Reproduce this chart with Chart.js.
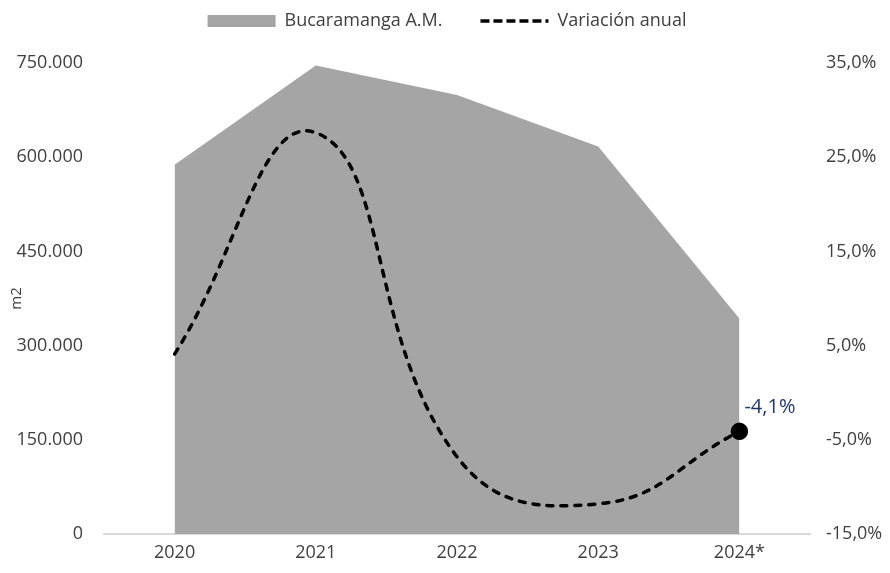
<!DOCTYPE html>
<html>
<head>
<meta charset="utf-8">
<script src="https://cdn.jsdelivr.net/npm/chart.js@4.4.1/dist/chart.umd.min.js"></script>
<style>
  html, body { margin: 0; padding: 0; background: #fff; }
  #wrap { width: 890px; height: 573px; }
</style>
</head>
<body>
<div id="wrap"><canvas id="myChart"></canvas></div>
<script>
const categories = ['2020', '2021', '2022', '2023', '2024*'];
const areaM2 = [588000, 746000, 699000, 617000, 343000];
const variacion = [4.1, 27.6, -6.8, -11.8, -4.1];
const leftTicks = [0, 150000, 300000, 450000, 600000, 750000];
const rightTicks = [-15, -5, 5, 15, 25, 35];

const FONT = "'Open Sans', sans-serif";
const TXT = '#404040';

const fmtMiles = v => String(v).replace(/\B(?=(\d{3})+(?!\d))/g, '.');
const fmtPct = v => v.toFixed(1).replace('.', ',') + '%';

// etiqueta del ultimo punto
const lastLabel = {
  id: 'lastLabel',
  afterDatasetsDraw(chart) {
    const meta = chart.getDatasetMeta(1);
    const pt = meta.data[meta.data.length - 1];
    const { ctx } = chart;
    ctx.save();
    ctx.font = "20px " + FONT;
    ctx.fillStyle = '#1F3864';
    ctx.textAlign = 'left';
    ctx.textBaseline = 'middle';
    ctx.fillText(fmtPct(variacion[variacion.length - 1]), pt.x + 5, pt.y - 24);
    ctx.restore();
  }
};

document.addEventListener("DOMContentLoaded", () => {
  const ctx = document.getElementById('myChart');
  new Chart(ctx, {
    type: 'line',
    data: {
      labels: categories,
      datasets: [{
        label: 'Bucaramanga A.M.',
        data: areaM2,
        yAxisID: 'y',
        fill: 'origin',
        backgroundColor: '#A5A5A5',
        borderColor: '#A5A5A5',
        borderWidth: 0,
        pointRadius: 0,
        tension: 0,
        order: 2
      }, {
        label: 'Variación anual',
        data: variacion,
        yAxisID: 'y1',
        fill: false,
        borderColor: '#000000',
        backgroundColor: '#000000',
        borderWidth: 3.5,
        borderDash: [6, 8],
        borderCapStyle: 'round',
        pointRadius: [0, 0, 0, 0, 7],
        pointBackgroundColor: '#000000',
        tension: 0.45,
        order: 1
      }]
    },
    options: {
      responsive: true,
      maintainAspectRatio: false,
      animation: false,
      layout: { padding: { left: 8, right: 4, top: 2, bottom: 10 } },
      plugins: {
        legend: {
          position: 'top',
          labels: {
            font: { family: FONT, size: 18 },
            color: TXT,
            usePointStyle: true,
            pointStyleWidth: 68,
            boxHeight: 12,
            padding: 10,
            sort: (a, b) => a.datasetIndex - b.datasetIndex,
            generateLabels(chart) {
              const items = Chart.defaults.plugins.legend.labels.generateLabels(chart);
              items.forEach(it => {
                if (it.datasetIndex === 0) {
                  it.pointStyle = 'rect';
                  it.lineWidth = 0;
                  it.text = it.text + '      ';
                } else {
                  it.pointStyle = 'line';
                  it.lineDash = [9, 4];
                  it.lineWidth = 3.5;
                }
              });
              return items;
            }
          }
        },
        tooltip: { enabled: false }
      },
      scales: {
        x: {
          offset: true,
          grid: { display: false, drawTicks: false },
          border: { display: true, color: '#D9D9D9', width: 2 },
          afterFit(axis) { axis.height = 29; },
          ticks: { font: { family: FONT, size: 18 }, color: TXT, padding: 8 }
        },
        // eje vacio para separar la leyenda del area
        xTop: {
          type: 'category',
          position: 'top',
          grid: { display: false, drawTicks: false },
          border: { display: false },
          ticks: { display: false },
          afterFit(axis) { axis.height = 23; }
        },
        y: {
          position: 'left',
          min: 0,
          max: 750000,
          afterBuildTicks(axis) { axis.ticks = leftTicks.map(v => ({ value: v })); },
          afterFit(axis) { axis.width = 96; },
          grid: { display: false },
          border: { display: false },
          title: { display: true, text: 'm2', font: { family: FONT, size: 15 }, color: TXT, padding: 0 },
          ticks: { font: { family: FONT, size: 18 }, color: TXT, padding: 13, callback: v => fmtMiles(v) }
        },
        y1: {
          position: 'right',
          min: -15,
          max: 35,
          afterBuildTicks(axis) { axis.ticks = rightTicks.map(v => ({ value: v })); },
          afterFit(axis) { axis.width = 76; },
          grid: { display: false },
          border: { display: false },
          ticks: { font: { family: FONT, size: 18 }, color: TXT, padding: 8, callback: v => fmtPct(v) }
        }
      }
    },
    plugins: [lastLabel]
  });
});
</script>
</body>
</html>
